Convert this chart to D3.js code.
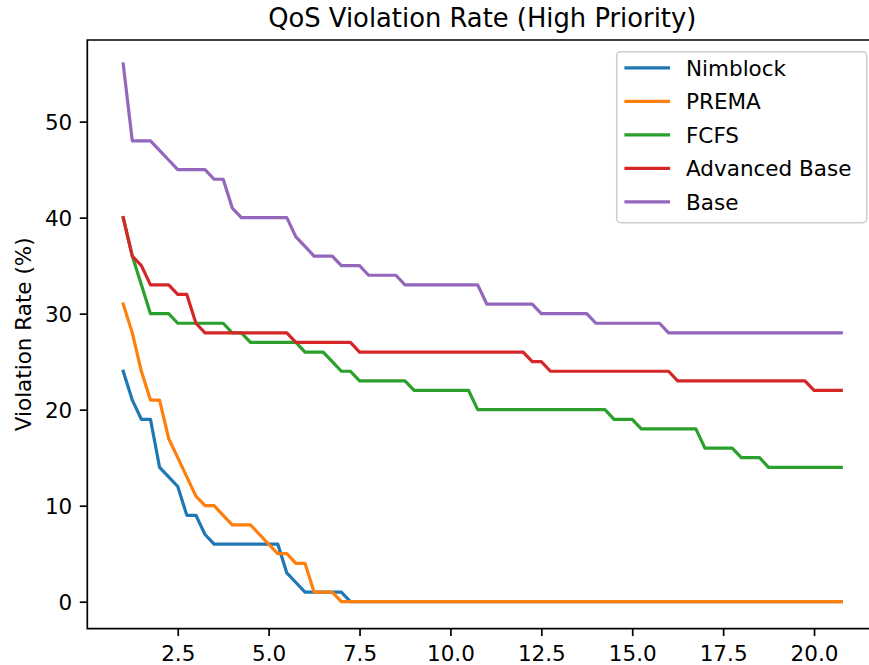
<!DOCTYPE html>
<html>
<head>
<meta charset="utf-8">
<script src="https://cdn.jsdelivr.net/npm/d3@7"></script>
<style>
  body { margin: 0; background: #fff; overflow: hidden; }
  svg { display: block; }
  text { font-family: "DejaVu Sans", sans-serif; fill: #000; }
</style>
</head>
<body>
<div id="my_dataviz"></div>
<script>
// x values (time steps)
var xValues = [1, 1.25, 1.5, 1.75, 2, 2.25, 2.5, 2.75, 3, 3.25,
  3.5, 3.75, 4, 4.25, 4.5, 4.75, 5, 5.25, 5.5, 5.75,
  6, 6.25, 6.5, 6.75, 7, 7.25, 7.5, 7.75, 8, 8.25,
  8.5, 8.75, 9, 9.25, 9.5, 9.75, 10, 10.25, 10.5, 10.75,
  11, 11.25, 11.5, 11.75, 12, 12.25, 12.5, 12.75, 13, 13.25,
  13.5, 13.75, 14, 14.25, 14.5, 14.75, 15, 15.25, 15.5, 15.75,
  16, 16.25, 16.5, 16.75, 17, 17.25, 17.5, 17.75, 18, 18.25,
  18.5, 18.75, 19, 19.25, 19.5, 19.75, 20, 20.25, 20.5, 20.75]

// violation rate (%) per series
var nimblock = [24, 21, 19, 19, 14, 13, 12, 9, 9, 7,
  6, 6, 6, 6, 6, 6, 6, 6, 3, 2,
  1, 1, 1, 1, 1, 0, 0, 0, 0, 0,
  0, 0, 0, 0, 0, 0, 0, 0, 0, 0,
  0, 0, 0, 0, 0, 0, 0, 0, 0, 0,
  0, 0, 0, 0, 0, 0, 0, 0, 0, 0,
  0, 0, 0, 0, 0, 0, 0, 0, 0, 0,
  0, 0, 0, 0, 0, 0, 0, 0, 0, 0]

var prema = [31, 28, 24, 21, 21, 17, 15, 13, 11, 10,
  10, 9, 8, 8, 8, 7, 6, 5, 5, 4,
  4, 1, 1, 1, 0, 0, 0, 0, 0, 0,
  0, 0, 0, 0, 0, 0, 0, 0, 0, 0,
  0, 0, 0, 0, 0, 0, 0, 0, 0, 0,
  0, 0, 0, 0, 0, 0, 0, 0, 0, 0,
  0, 0, 0, 0, 0, 0, 0, 0, 0, 0,
  0, 0, 0, 0, 0, 0, 0, 0, 0, 0]

var fcfs = [40, 36, 33, 30, 30, 30, 29, 29, 29, 29,
  29, 29, 28, 28, 27, 27, 27, 27, 27, 27,
  26, 26, 26, 25, 24, 24, 23, 23, 23, 23,
  23, 23, 22, 22, 22, 22, 22, 22, 22, 20,
  20, 20, 20, 20, 20, 20, 20, 20, 20, 20,
  20, 20, 20, 20, 19, 19, 19, 18, 18, 18,
  18, 18, 18, 18, 16, 16, 16, 16, 15, 15,
  15, 14, 14, 14, 14, 14, 14, 14, 14, 14]

var advancedBase = [40, 36, 35, 33, 33, 33, 32, 32, 29, 28,
  28, 28, 28, 28, 28, 28, 28, 28, 28, 27,
  27, 27, 27, 27, 27, 27, 26, 26, 26, 26,
  26, 26, 26, 26, 26, 26, 26, 26, 26, 26,
  26, 26, 26, 26, 26, 25, 25, 24, 24, 24,
  24, 24, 24, 24, 24, 24, 24, 24, 24, 24,
  24, 23, 23, 23, 23, 23, 23, 23, 23, 23,
  23, 23, 23, 23, 23, 23, 22, 22, 22, 22]

var base = [56, 48, 48, 48, 47, 46, 45, 45, 45, 45,
  44, 44, 41, 40, 40, 40, 40, 40, 40, 38,
  37, 36, 36, 36, 35, 35, 35, 34, 34, 34,
  34, 33, 33, 33, 33, 33, 33, 33, 33, 33,
  31, 31, 31, 31, 31, 31, 30, 30, 30, 30,
  30, 30, 29, 29, 29, 29, 29, 29, 29, 29,
  28, 28, 28, 28, 28, 28, 28, 28, 28, 28,
  28, 28, 28, 28, 28, 28, 28, 28, 28, 28]

var seriesNames = ["Nimblock", "PREMA", "FCFS", "Advanced Base", "Base"]
var seriesValues = [nimblock, prema, fcfs, advancedBase, base]
var xTicks = [2.5, 5, 7.5, 10, 12.5, 15, 17.5, 20]
var yTicks = [0, 10, 20, 30, 40, 50]

// set the dimensions of the graph (right spine falls outside the picture)
var width = 869,
    height = 665,
    plotLeft = 87.3,
    plotRight = 877.2,
    plotTop = 40,
    plotBottom = 628.6

var color = d3.scaleOrdinal()
  .domain(seriesNames)
  .range(["#1f77b4", "#ff7f0e", "#2ca02c", "#d62728", "#9467bd"])

var svg = d3.select("#my_dataviz")
  .append("svg")
    .attr("width", width)
    .attr("height", height)

// axis limits with the usual 5% padding
var x = d3.scaleLinear()
  .domain([0.0125, 21.7375])
  .range([plotLeft, plotRight])

var y = d3.scaleLinear()
  .domain([-2.8, 58.5])
  .range([plotBottom, plotTop])

// x axis
var xAxis = svg.append("g")
  .attr("transform", "translate(0," + plotBottom + ")")
  .call(d3.axisBottom(x).tickValues(xTicks).tickFormat(d3.format(".1f")).tickSizeOuter(0).tickSize(7.5).tickPadding(10))
xAxis.select(".domain").remove()
xAxis.selectAll("line").attr("stroke", "#000").attr("stroke-width", 1.7)
xAxis.selectAll("text").attr("font-size", "21.5px").attr("font-family", "DejaVu Sans").attr("fill", "#000")

// y axis
var yAxis = svg.append("g")
  .attr("transform", "translate(" + plotLeft + ",0)")
  .call(d3.axisLeft(y).tickValues(yTicks).tickSizeOuter(0).tickSize(7.5).tickPadding(7.5))
yAxis.select(".domain").remove()
yAxis.selectAll("line").attr("stroke", "#000").attr("stroke-width", 1.7)
yAxis.selectAll("text").attr("font-size", "21.5px").attr("font-family", "DejaVu Sans").attr("fill", "#000").attr("dy", "0.36em")

// the lines
var line = d3.line()
  .x(function(d, i) { return x(xValues[i]) })
  .y(function(d) { return y(d) })

svg.append("g")
  .selectAll("path")
  .data(seriesValues)
  .enter()
  .append("path")
    .attr("d", function(d) { return line(d) })
    .attr("fill", "none")
    .attr("stroke", function(d, i) { return color(seriesNames[i]) })
    .attr("stroke-width", 3.2)
    .attr("stroke-linecap", "square")
    .attr("stroke-linejoin", "round")

// frame: left, top and bottom spines only (the right one is cropped away)
svg.append("path")
  .attr("d", "M" + width + "," + plotTop + "H" + plotLeft + "V" + plotBottom + "H" + width)
  .attr("fill", "none")
  .attr("stroke", "#000")
  .attr("stroke-width", 1.7)

// title and y label
svg.append("text")
  .attr("x", (plotLeft + plotRight) / 2)
  .attr("y", 27)
  .attr("text-anchor", "middle")
  .attr("font-size", "25.8px")
  .text("QoS Violation Rate (High Priority)")

svg.append("text")
  .attr("transform", "translate(31," + ((plotTop + plotBottom) / 2) + ") rotate(-90)")
  .attr("text-anchor", "middle")
  .attr("font-size", "21.5px")
  .text("Violation Rate (%)")

// legend
var legend = svg.append("g")
legend.append("rect")
  .attr("x", 616.7)
  .attr("y", 51.7)
  .attr("width", 250)
  .attr("height", 171)
  .attr("rx", 4)
  .attr("fill", "#fff")
  .attr("fill-opacity", 0.8)
  .attr("stroke", "#cccccc")
  .attr("stroke-width", 1.5)

var rows = legend.selectAll(".row")
  .data(seriesNames)
  .enter()
  .append("g")
    .attr("transform", function(d, i) { return "translate(0," + (67.8 + i * 33.5) + ")" })

rows.append("line")
  .attr("x1", 626)
  .attr("x2", 668.5)
  .attr("stroke", function(d) { return color(d) })
  .attr("stroke-width", 3.2)
  .attr("stroke-linecap", "square")

rows.append("text")
  .attr("x", 686)
  .attr("dy", "0.36em")
  .attr("font-size", "21.5px")
  .text(function(d) { return d })
</script>
</body>
</html>
